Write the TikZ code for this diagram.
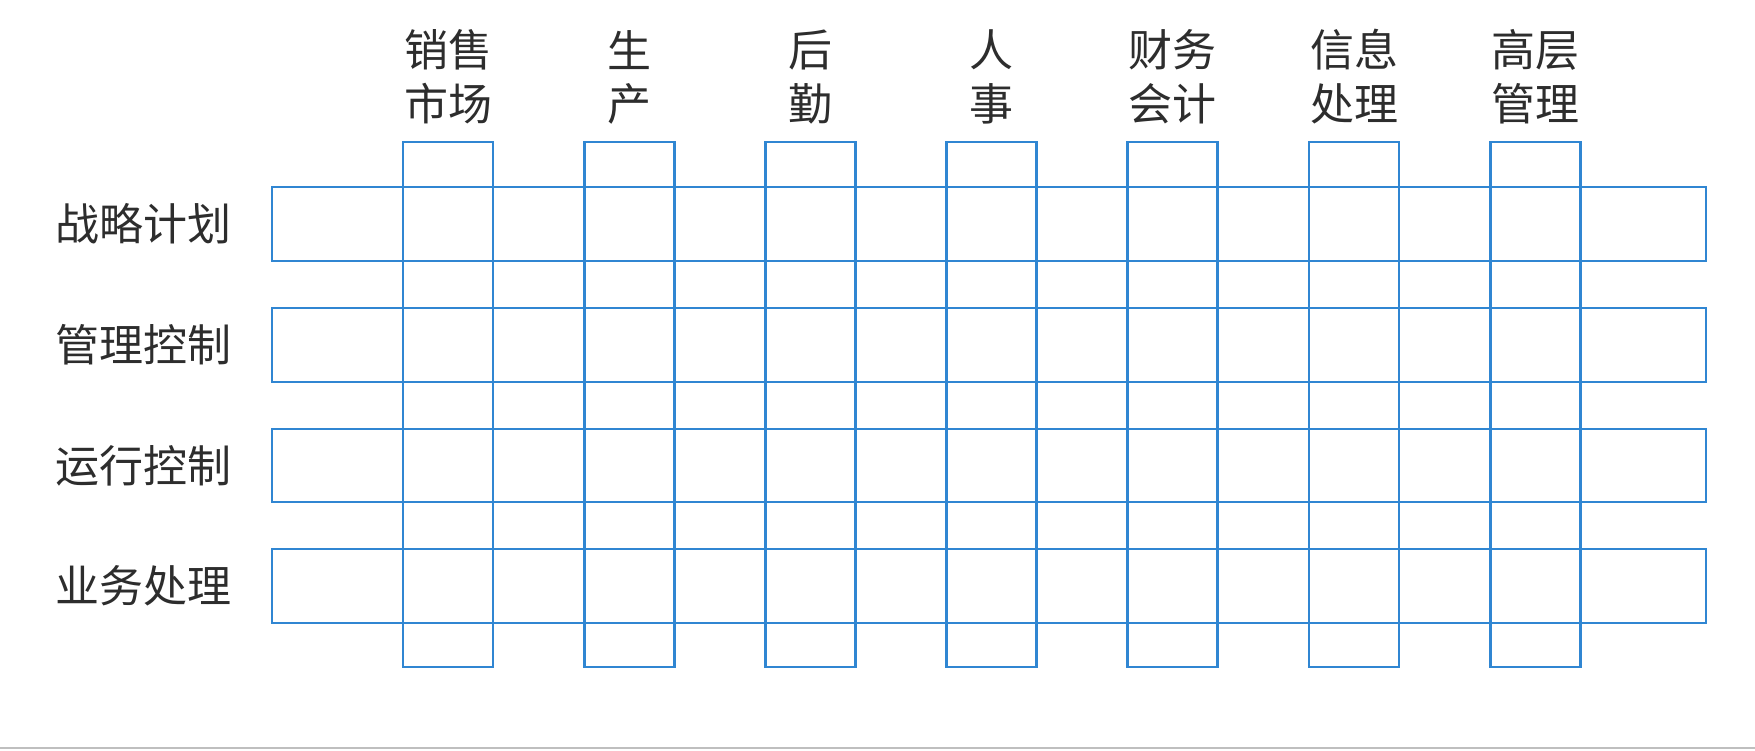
\documentclass[tikz,border=0pt]{standalone}
\usepackage{fontspec}
\setmainfont{Noto Sans CJK SC}
\begin{document}
\begin{tikzpicture}[x=1pt,y=-1pt,
  grid/.style={draw=gridblue,line width=2.9pt},
  lbl/.style={text=txt,font=\fontsize{44}{55}\selectfont,inner sep=0pt},
  hdr/.style={lbl,align=center},
]
\definecolor{gridblue}{RGB}{48,134,210}
\definecolor{txt}{RGB}{45,45,45}
\useasboundingbox[fill=white] (0,0) rectangle (1755,750);
\draw[draw=black!25,line width=1.5pt] (0,748) -- (1755,748);
% rows
\foreach \t/\b/\n/\name in {187/261/战略计划/r1, 308/382/管理控制/r2, 429/502/运行控制/r3, 549/623/业务处理/r4}{
  \draw[grid] (272,\t) rectangle (1706,\b);
  \node[lbl,anchor=east] (\name) at (232,{(\t+\b)/2}) {\n};
}
% columns
\foreach \i/\a/\c in {0/销售/市场, 1/生/产, 2/后/勤, 3/人/事, 4/财务/会计, 5/信息/处理, 6/高层/管理}{
  \pgfmathsetmacro{\L}{403+181.2*\i}
  \draw[grid] (\L,142) rectangle (\L+90,667);
  \node[lbl] (h\i a) at (\L+45,50) {\a};
  \node[lbl] (h\i b) at (\L+45,104) {\c};
}
\end{tikzpicture}
\end{document}
